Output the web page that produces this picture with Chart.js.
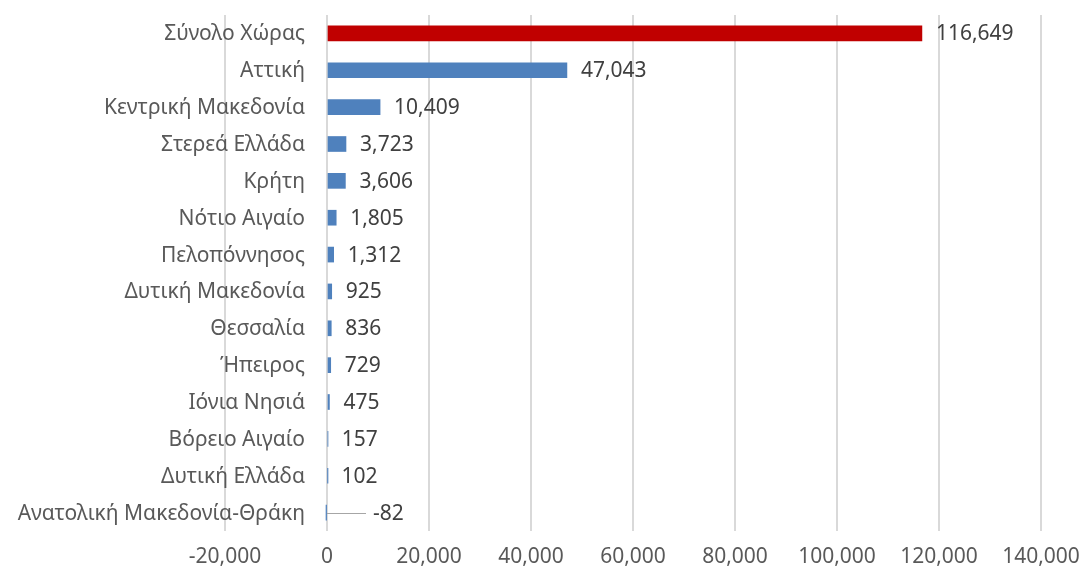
<!DOCTYPE html>
<html><head><meta charset="utf-8">
<script src="https://cdn.jsdelivr.net/npm/chart.js@4/dist/chart.umd.min.js"></script>
<style>html,body{margin:0;padding:0;background:#fff}#wrap{width:1082px;height:574px}</style>
</head><body><div id="wrap"><canvas id="c" width="1082" height="574"></canvas></div>
<script>
const categories = ["Σύνολο Χώρας","Αττική","Κεντρική Μακεδονία","Στερεά Ελλάδα","Κρήτη","Νότιο Αιγαίο","Πελοπόννησος","Δυτική Μακεδονία","Θεσσαλία","Ήπειρος","Ιόνια Νησιά","Βόρειο Αιγαίο","Δυτική Ελλάδα","Ανατολική Μακεδονία-Θράκη"];
const values = [116649,47043,10409,3723,3606,1805,1312,925,836,729,475,157,102,-82];
const xMin = -20000, xMax = 140000, xStep = 20000;
const FONT = "'Noto Sans', sans-serif";
const fmt = v => Number(v).toLocaleString('en-US');

const labelPlugin = {
  id: 'valueLabels',
  afterDatasetsDraw(chart) {
    const ctx = chart.ctx;
    const meta = chart.getDatasetMeta(0);
    const xs = chart.scales.x;
    const ys = chart.scales.y;
    const x0 = xs.getPixelForValue(0);
    ctx.save();
    ctx.font = "21px " + FONT;
    ctx.textBaseline = 'middle';
    ctx.fillStyle = '#595959';
    ctx.textAlign = 'right';
    categories.forEach((c, i) => {
      ctx.fillText(c, x0 - 22, ys.getPixelForValue(i) + 1);
    });
    ctx.fillStyle = '#404040';
    ctx.textAlign = 'left';
    meta.data.forEach((bar, i) => {
      const v = values[i];
      if (v < 0) {
        ctx.strokeStyle = '#a6a6a6';
        ctx.lineWidth = 1;
        ctx.beginPath();
        ctx.moveTo(x0, Math.round(bar.y) + 0.5);
        ctx.lineTo(x0 + 39, Math.round(bar.y) + 0.5);
        ctx.stroke();
        ctx.fillText(fmt(v), x0 + 46, bar.y + 1);
      } else {
        ctx.fillText(fmt(v), bar.x + 14, bar.y + 1);
      }
    });
    ctx.restore();
  }
};

new Chart(document.getElementById('c'), {
  type: 'bar',
  data: {
    labels: categories,
    datasets: [{
      data: values,
      backgroundColor: values.map((v, i) => i === 0 ? '#C00000' : '#4F81BD'),
      borderWidth: 0,
      barThickness: 15
    }]
  },
  options: {
    indexAxis: 'y',
    responsive: false,
    animation: false,
    layout: { padding: { left: 225, right: 41, top: 15, bottom: 0 } },
    plugins: { legend: { display: false }, tooltip: { enabled: false } },
    scales: {
      x: {
        min: xMin, max: xMax,
        afterFit: s => { s.height = 43; s.paddingRight = 0; s.paddingLeft = 0; },
        ticks: { stepSize: xStep, callback: v => fmt(v), color: '#595959', font: { family: FONT, size: 21 }, padding: 13, maxRotation: 0 },
        grid: { color: '#d9d9d9', lineWidth: 2, drawTicks: false },
        border: { display: false }
      },
      y: {
        display: false,
        grid: { display: false }
      }
    }
  },
  plugins: [labelPlugin]
});
</script></body></html>
